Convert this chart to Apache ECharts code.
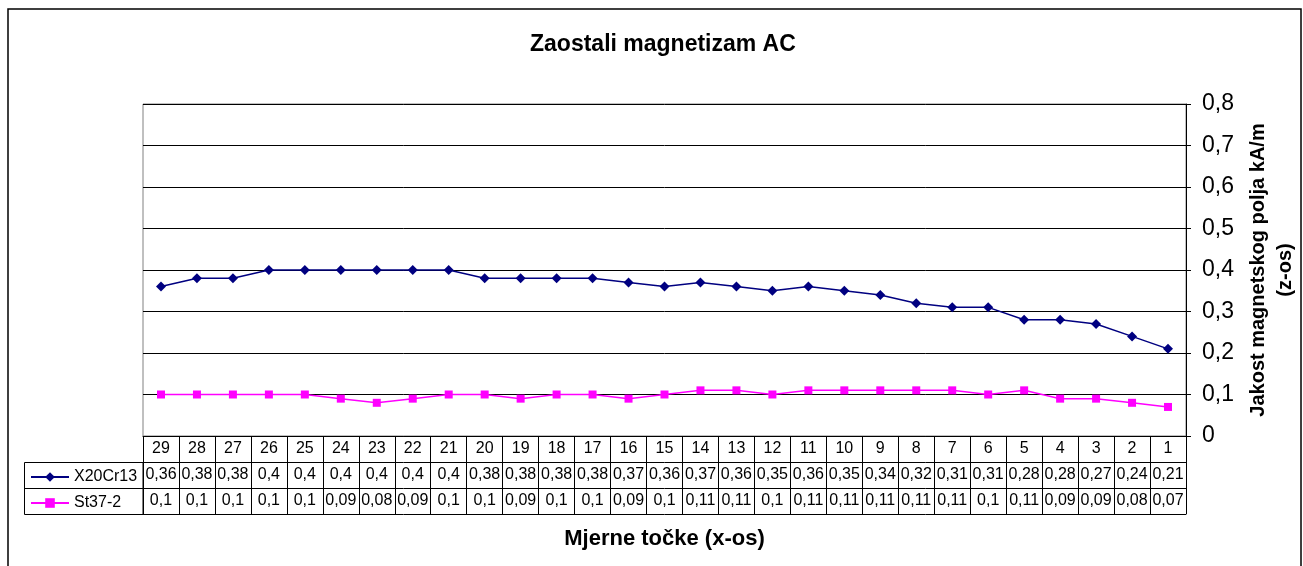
<!DOCTYPE html>
<html>
<head>
<meta charset="utf-8">
<script src="https://cdn.jsdelivr.net/npm/echarts@6/dist/echarts.min.js"></script>
<style>
  html, body { margin: 0; padding: 0; background: #fff; }
  #main { width: 1303px; height: 566px; }
</style>
</head>
<body>
<div id="main"></div>
<script>
// mjerne tocke (x-os), od 29 prema 1
const categories = ['29', '28', '27', '26', '25', '24', '23', '22', '21', '20', '19', '18', '17', '16', '15',
  '14', '13', '12', '11', '10', '9', '8', '7', '6', '5', '4', '3', '2', '1']
const x20cr13 = [0.36, 0.38, 0.38, 0.4, 0.4, 0.4, 0.4, 0.4, 0.4, 0.38, 0.38, 0.38, 0.38, 0.37, 0.36,
  0.37, 0.36, 0.35, 0.36, 0.35, 0.34, 0.32, 0.31, 0.31, 0.28, 0.28, 0.27, 0.24, 0.21]
const st37 = [0.1, 0.1, 0.1, 0.1, 0.1, 0.09, 0.08, 0.09, 0.1, 0.1, 0.09, 0.1, 0.1, 0.09, 0.1,
  0.11, 0.11, 0.1, 0.11, 0.11, 0.11, 0.11, 0.11, 0.1, 0.11, 0.09, 0.09, 0.08, 0.07]
const seriesNames = ['X20Cr13', 'St37-2']

const FONT = '"Liberation Sans", Arial, sans-serif'
const comma = (v) => String(Math.round(v * 100) / 100).replace('.', ',')

// one x axis per table row (category row + two value rows + closing line)
const tableAxis = (offset, formatter, extra) => Object.assign({
  type: 'category',
  data: categories,
  position: 'bottom',
  offset: offset,
  boundaryGap: true,
  axisLine: { show: true, lineStyle: { color: '#000', width: 1 } },
  axisTick: { show: !!formatter, interval: 0, length: 26, lineStyle: { color: '#000' } },
  axisLabel: {
    show: !!formatter,
    interval: 0,
    margin: 5,
    color: '#000',
    fontFamily: FONT,
    fontSize: 16,
    formatter: formatter || ''
  },
  splitLine: { show: false }
}, extra || {})

const chart = echarts.init(document.getElementById('main'))

chart.setOption({
  backgroundColor: '#fff',
  animation: false,
  title: {
    text: 'Zaostali magnetizam AC',
    left: 525,
    top: 28,
    textStyle: { fontFamily: FONT, fontSize: 23, fontWeight: 'bold', color: '#000' }
  },
  legend: {
    orient: 'vertical',
    left: 25,
    top: 464,
    itemWidth: 38,
    itemHeight: 12,
    itemGap: 10,
    data: seriesNames,
    textStyle: { fontFamily: FONT, fontSize: 16, color: '#000', lineHeight: 16 }
  },
  grid: {
    left: 143,
    right: 117,
    top: 104,
    bottom: 130,
    outerBoundsMode: 'none',
    containLabel: false,
    show: true,
    backgroundColor: '#fff',
    borderColor: '#808080',
    borderWidth: 1
  },
  xAxis: [
    tableAxis(0, (v) => v),
    tableAxis(26, (v, i) => comma(x20cr13[i])),
    tableAxis(52, (v, i) => comma(st37[i])),
    tableAxis(78, null, {
      name: 'Mjerne točke (x-os)',
      nameLocation: 'middle',
      nameGap: 14,
      nameTextStyle: { fontFamily: FONT, fontSize: 22, fontWeight: 'bold', color: '#000' }
    })
  ],
  yAxis: {
    type: 'value',
    position: 'right',
    min: 0,
    max: 0.8,
    interval: 0.1,
    name: 'Jakost magnetskog polja kA/m\n(z-os)',
    nameLocation: 'middle',
    nameGap: 56,
    nameTextStyle: { fontFamily: FONT, fontSize: 20, fontWeight: 'bold', color: '#000', lineHeight: 27, align: 'center' },
    axisLine: { show: true, lineStyle: { color: '#000' } },
    axisTick: { show: true, length: 5, lineStyle: { color: '#000' } },
    axisLabel: {
      margin: 16,
      color: '#000',
      fontFamily: FONT,
      fontSize: 23,
      formatter: (v) => comma(v)
    },
    splitLine: { show: true, lineStyle: { color: '#000', width: 1 } }
  },
  series: [
    {
      name: seriesNames[0],
      type: 'line',
      xAxisIndex: 0,
      data: x20cr13,
      symbol: 'diamond',
      symbolSize: 10,
      lineStyle: { color: '#000080', width: 1.5 },
      itemStyle: { color: '#000080' }
    },
    {
      name: seriesNames[1],
      type: 'line',
      xAxisIndex: 0,
      data: st37,
      symbol: 'rect',
      symbolSize: 8,
      lineStyle: { color: '#FF00FF', width: 1.5 },
      itemStyle: { color: '#FF00FF' }
    }
  ],
  graphic: [
    // okvir grafikona
    { type: 'rect', shape: { x: 8, y: 9, width: 1293, height: 600 }, style: { fill: null, stroke: '#000', lineWidth: 1.5 }, silent: true },
    // okvir legende u tablici
    { type: 'rect', shape: { x: 24.5, y: 462.5, width: 118.5, height: 52 }, style: { fill: null, stroke: '#000', lineWidth: 1 }, silent: true },
    { type: 'line', shape: { x1: 24.5, y1: 488.5, x2: 143, y2: 488.5 }, style: { stroke: '#000', lineWidth: 1 }, silent: true }
  ]
})
</script>
</body>
</html>
